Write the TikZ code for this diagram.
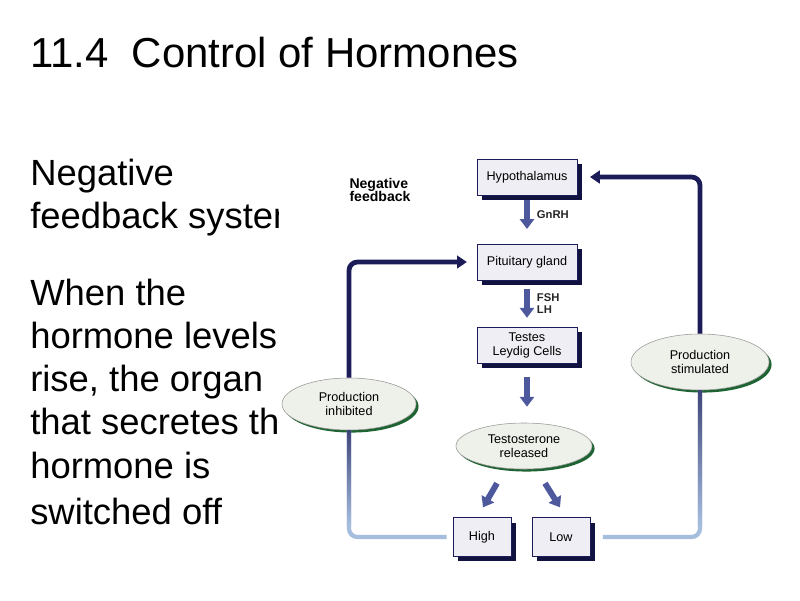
\documentclass[tikz,border=0pt]{standalone}
\usepackage{fontspec}
\setmainfont{Liberation Sans}
\usetikzlibrary{arrows.meta,positioning,shapes.geometric,shadows,calc}
\definecolor{fbnavy}{RGB}{28,28,88}
\definecolor{fblight}{RGB}{166,190,222}
\definecolor{fbmid}{RGB}{78,88,156}
\definecolor{boxfill}{RGB}{238,238,244}
\definecolor{boxshade}{RGB}{18,18,64}
\definecolor{ellfill}{RGB}{238,240,234}
\definecolor{ellgreen}{RGB}{30,100,50}
\tikzset{
  organ/.style={rectangle,draw=fbnavy,fill=boxfill,thin,
                minimum width=2.5cm,minimum height=0.9cm,inner sep=1pt,
                align=center,font=\fontsize{9}{10}\selectfont,
                drop shadow={shadow xshift=3.6pt,shadow yshift=-3.6pt,
                             fill=boxshade,opacity=1}},
  level/.style={organ,minimum width=1.45cm,minimum height=0.97cm},
  status/.style={ellipse,draw=gray!80,fill=ellfill,inner sep=0pt,
                 align=center,font=\fontsize{9}{10}\selectfont,
                 drop shadow={shadow xshift=1.8pt,shadow yshift=-1.8pt,
                              fill=ellgreen,opacity=1}},
  horm/.style={-{Triangle[length=7pt,width=10pt]},line width=4.2pt,fbmid},
  hormlbl/.style={font=\fontsize{8}{9}\selectfont\bfseries,align=left,
                  text=black!85,inner sep=1pt},
  fbtop/.style={-{Triangle[length=7pt,width=9pt]},line width=3.4pt,
                fbnavy,rounded corners=6pt},
  fbbot/.style={line width=3pt,fblight,rounded corners=6pt},
  body/.style={anchor=base west,font=\fontsize{25.9}{30}\selectfont,
               inner sep=0pt},
}
\begin{document}
\begin{tikzpicture}[x=0.025cm,y=-0.025cm]

  \fill[white] (0,0) rectangle (800,600);
  \useasboundingbox (0,0) rectangle (800,600);

  \node[anchor=base west,font=\fontsize{29.8}{34}\selectfont,inner sep=0pt]
        (title) at (30,67) {11.4\ \ Control of Hormones};

  \foreach \ty/\tx in {185/Negative, 228/feedback system, 305/When the,
    348/hormone levels, 391/{rise, the organ}, 434/that secretes the,
    478/hormone is, 524/switched off}{
    \node[body] (line\ty) at (30,\ty) {\tx};
  }

  \fill[white] (278.5,140) rectangle (800,600);

  \node[font=\fontsize{10}{9.5}\selectfont\bfseries,align=left]
        (neglbl) at (380,190) {Negative\\feedback};

  \node[organ] (hyp) at (527,177) {Hypothalamus};
  \node[organ] (pit) at (527,262) {Pituitary gland};
  \node[organ] (tes) at (527,345) {Testes\\Leydig Cells};

  \node[status,minimum width=3.4cm,minimum height=1.15cm]
        (rel) at (524,446) {Testosterone\\released};
  \node[status,minimum width=3.35cm,minimum height=1.3cm]
        (inh) at (349,404) {Production\\inhibited};
  \node[status,minimum width=3.45cm,minimum height=1.4cm]
        (stim) at (700,362) {Production\\stimulated};

  \node[level] (high) at (482,537) {High};
  \node[level] (low)  at (561,537) {Low};

  \draw[horm,shorten <=3.5pt,shorten >=10.5pt] (hyp.south)
    -- node[hormlbl,right=4pt,pos=0.4]{GnRH} (pit.north);
  \draw[horm,shorten <=6.4pt,shorten >=6.4pt] (pit.south)
    -- node[hormlbl,right=4pt]{FSH\\LH} (tes.north);
  \draw[horm,shorten <=10pt,shorten >=11.4pt] (tes.south)
    -- (tes.south |- rel.north);
  \draw[horm] ($(rel.south)+(-27,14)$) -- ($(high.north)+(1,-10)$);
  \draw[horm] ($(rel.south)+(21,14)$) -- ($(low.north)+(-1,-10)$);

  \draw[fbtop,shorten >=7pt] (inh.north) |- (pit.west);
  \draw[fbbot] ([xshift=-4.3pt]high.west) -| (inh.south);
  \shade[top color=fbnavy!75!fblight,bottom color=fblight]
    ($(inh.south)+(-2.1,0)$) rectangle ($(inh.south |- high.west)+(2.1,-12)$);

  \draw[fbtop,shorten >=9pt] (stim.north) |- (hyp.east);
  \draw[fbbot] ([xshift=9pt]low.east) -| (stim.south);
  \shade[top color=fbnavy!75!fblight,bottom color=fblight]
    ($(stim.south)+(-2.1,0)$) rectangle ($(stim.south |- low.east)+(2.1,-12)$);

\end{tikzpicture}
\end{document}
